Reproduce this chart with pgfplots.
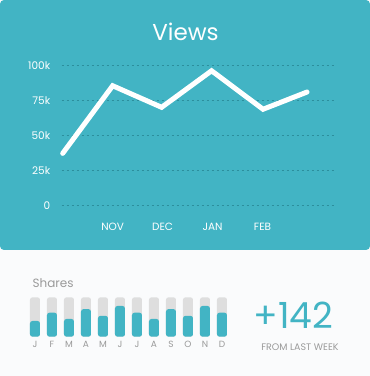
\documentclass[border=0pt]{standalone}
\usepackage{pgfplots}
\pgfplotsset{compat=1.18}
\usepackage{fontspec}
\setmainfont{Poppins}
\definecolor{teal1}{HTML}{42B4C4}
\definecolor{gridc}{HTML}{2C8E9C}
\definecolor{grayt}{HTML}{9A9A9A}
\definecolor{grayb}{HTML}{DEDEDE}
\definecolor{bgl}{HTML}{FAFBFC}
\begin{document}
\begin{tikzpicture}
\fill[bgl] (0pt,0pt) rectangle (370pt,376pt);
\fill[teal1,rounded corners=4pt] (0pt,126pt) rectangle (370pt,376pt);
\node[white,font=\fontsize{23}{23}\selectfont] at (185.5pt,344.3pt) {Views};
\begin{axis}[
  at={(61.7pt,170.7pt)}, anchor=south west,
  scale only axis, width=273.3pt, height=140pt,
  xmin=-0.02, xmax=5.45, ymin=0, ymax=100000,
  scaled y ticks=false,
  axis line style={draw=none}, tick style={draw=none},
  ytick={0,25000,50000,75000,100000},
  yticklabels={0,25k,50k,75k,100k},
  xtick={1,2,3,4}, xticklabels={NOV,DEC,JAN,FEB},
  ymajorgrids, grid style={gridc, dash pattern=on 2.5pt off 2.5pt, line width=0.7pt},
  yticklabel style={white,font=\fontsize{10.5}{10.5}\selectfont, xshift=-8pt},
  xticklabel style={white,font=\fontsize{10.5}{10.5}\selectfont, yshift=-14pt},
  clip=false,
]
\addplot[white, line width=5pt, line cap=round, line join=miter] coordinates {
  (0,37100) (1,85400) (1.98,70000) (2.98,96100) (4.01,68600) (4.89,80900)
};
\end{axis}
\node[grayt,anchor=west,font=\fontsize{12}{12}\selectfont] at (29pt,93.3pt) {Shares};
\begin{axis}[
  at={(26.5pt,39.3pt)}, anchor=south west,
  scale only axis, width=204pt, height=39.4pt,
  xmin=-0.5, xmax=11.5, ymin=0, ymax=100,
  axis line style={draw=none}, tick style={draw=none},
  ytick=\empty,
  xtick={0,...,11}, xticklabels={J,F,M,A,M,J,J,A,S,O,N,D},
  xticklabel style={grayt,font=\fontsize{9}{9}\selectfont, yshift=-1pt},
  clip=false,
]
\addplot[ybar, bar width=10pt, bar shift=0pt, fill=grayb, draw=none, rounded corners=2.5pt] coordinates {
  (0,100) (1,100) (2,100) (3,100) (4,100) (5,100) (6,100) (7,100) (8,100) (9,100) (10,100) (11,100)
};
\addplot[ybar, bar width=10pt, bar shift=0pt, fill=teal1, draw=none, rounded corners=2.5pt] coordinates {
  (0,40) (1,61) (2,45) (3,70) (4,53) (5,78) (6,61) (7,45) (8,70) (9,53) (10,78) (11,61)
};
\end{axis}
\node[teal1,font=\fontsize{36}{36}\selectfont] at (293.5pt,61pt) {+142};
\node[grayt,font=\fontsize{9.5}{9.5}\selectfont] at (300pt,28.7pt) {FROM LAST WEEK};
\pgfresetboundingbox
\path[use as bounding box] (0pt,0pt) rectangle (370pt,376pt);
\end{tikzpicture}
\end{document}
